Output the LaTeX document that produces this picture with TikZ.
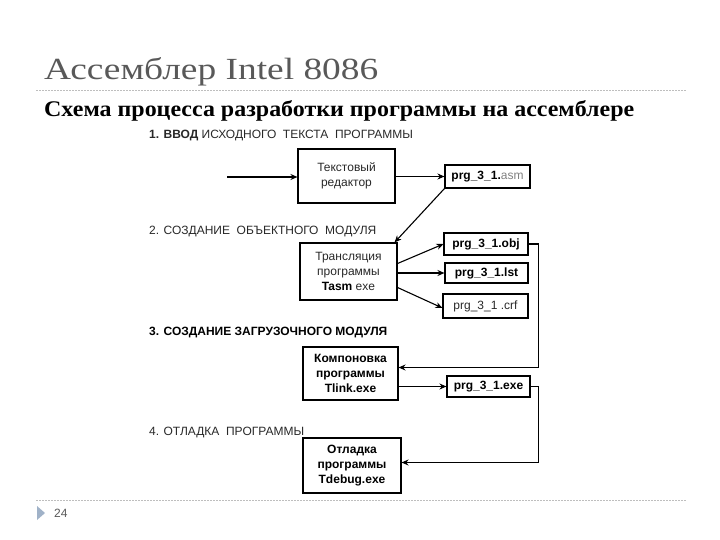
\documentclass[tikz,border=0pt]{standalone}
\usepackage{fontspec}
\setmainfont{Liberation Serif}
\setsansfont{Liberation Sans}
\usetikzlibrary{arrows.meta,calc}
\definecolor{titlegray}{RGB}{89,89,89}
\definecolor{dotgray}{RGB}{190,190,190}
\definecolor{markblue}{RGB}{160,178,200}
\definecolor{inkgray}{RGB}{40,40,40}
\tikzset{
  box/.style={draw=black, line width=1.1pt, align=center, inner sep=0pt,
    font=\sffamily\fontsize{12}{15}\selectfont, text=inkgray},
  filebox/.style={draw=black, line width=1.1pt, inner sep=0pt,
    font=\sffamily\fontsize{12}{13}\selectfont, text=black},
  conn/.style={line width=1.1pt, -{Stealth[length=7pt,width=6pt]}},
  steplabel/.style={anchor=base west, inner sep=0pt,
    font=\sffamily\fontsize{12}{13}\selectfont, text=inkgray},
  dotline/.style={dotgray, line width=0.9pt, dash pattern=on 1.5pt off 1.5pt}
}
\begin{document}
\begin{tikzpicture}[x=1pt,y=-1pt]
\useasboundingbox (0,0) rectangle (720,540);
% header
\node[anchor=base west, inner sep=0pt, text=titlegray] (title) at (44,80)
  {\resizebox{334pt}{22pt}{Ассемблер Intel 8086}};
\draw[dotline] (36,90) -- (686,90);
\node[anchor=base west, inner sep=0pt, text=black] (subtitle) at (44,117)
  {\resizebox{590pt}{16pt}{\bfseries Схема процесса разработки программы на ассемблере}};
% footer
\draw[dotline] (36,500) -- (686,500);
\fill[markblue] (37,506) -- (45,513) -- (37,520) -- cycle;
\node[anchor=west, inner sep=0pt, text=titlegray, font=\sffamily\fontsize{12}{12}\selectfont] (pagenum) at (54,513) {24};
% step labels
\node[steplabel] (l1) at (149,139) {\textbf{1. ВВОД} ИСХОДНОГО\ \ ТЕКСТА\ \ ПРОГРАММЫ};
\node[steplabel] (l2) at (149,234) {2. СОЗДАНИЕ\ \ ОБЪЕКТНОГО\ \ МОДУЛЯ};
\node[steplabel, text=black] (l3) at (149,335) {\bfseries 3. СОЗДАНИЕ ЗАГРУЗОЧНОГО МОДУЛЯ};
\node[steplabel] (l4) at (149,435) {4. ОТЛАДКА\ \ ПРОГРАММЫ};
% process boxes
\node[box, minimum width=97pt, minimum height=54pt] (b1) at (346.5,176) {Текстовый\\редактор};
\node[box, minimum width=97pt, minimum height=57pt] (b2) at (348.5,271.5) {Трансляция\\программы\\\textcolor{black}{\textbf{Tasm}} exe};
\node[box, minimum width=95pt, minimum height=53pt, text=black, font=\sffamily\bfseries\fontsize{12}{15}\selectfont] (b3) at (350.5,373.5) {Компоновка\\программы\\Tlink.exe};
\node[box, minimum width=98pt, minimum height=55pt, text=black, font=\sffamily\bfseries\fontsize{12}{15}\selectfont] (b4) at (352,465.5) {Отладка\\программы\\Tdebug.exe};
% file boxes
\node[filebox, minimum width=85pt, minimum height=23pt] (asm) at (487.5,176.5) {\textbf{prg\_3\_1.}\textcolor{gray}{asm}};
\node[filebox, minimum width=84pt, minimum height=22pt] (obj) at (486,244) {\textbf{prg\_3\_1.obj}};
\node[filebox, minimum width=83pt, minimum height=20pt] (lst) at (486.5,273) {\textbf{prg\_3\_1.lst}};
\node[filebox, minimum width=85pt, minimum height=24pt, text=inkgray] (crf) at (485.5,306) {prg\_3\_1 .crf};
\node[filebox, minimum width=83pt, minimum height=21pt] (exe) at (488.5,386.5) {\textbf{prg\_3\_1.exe}};
% connectors
\coordinate (in) at (227,177);
\draw[conn] (in) -- (in -| b1.west);
\draw[conn] (b1.east |- asm.west) -- (asm.west);
\draw[conn] (asm.south west) -- ($(b2.north east)+(-3,0)$);
\draw[conn] ($(b2.east)+(0,-8)$) -- (obj.west);
\draw[conn] (b2.east |- lst.west) -- (lst.west);
\draw[conn] ($(b2.east)+(0,16)$) -- ($(crf.west)+(0,2)$);
\draw[conn] (obj.east) -- ++(10,0) |- ($(b3.east)+(0,-6)$);
\draw[conn] (b3.east |- exe.west) -- (exe.west);
\draw[conn] (exe.east) -- ++(8,0) |- ($(b4.east)+(0,-3)$);
\end{tikzpicture}
\end{document}
